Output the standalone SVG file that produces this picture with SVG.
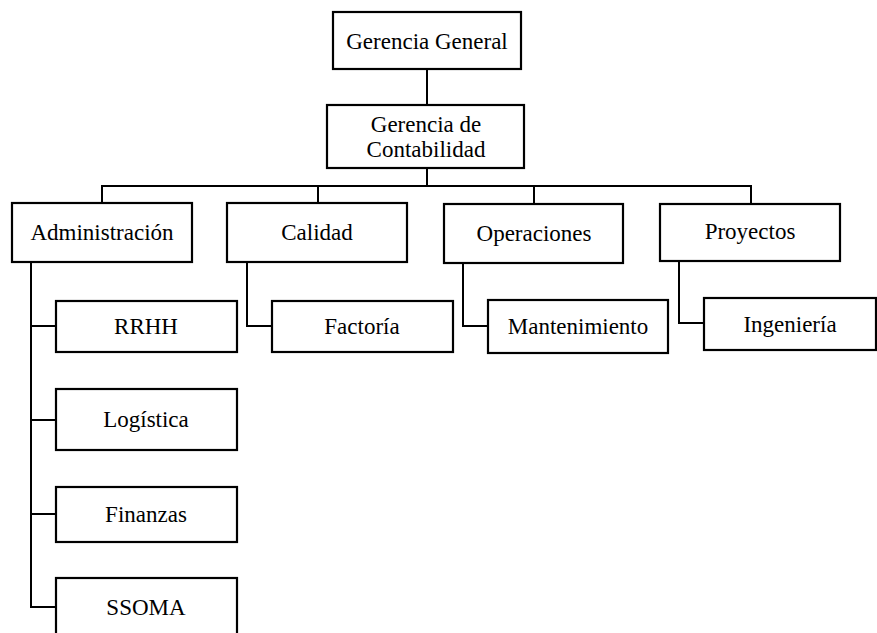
<svg xmlns="http://www.w3.org/2000/svg" width="877" height="633" viewBox="0 0 877 633">
<style>
.box{fill:#fff;stroke:#000;stroke-width:2.2}
.ln{fill:none;stroke:#000;stroke-width:2}
.t{font-family:'Liberation Serif',Times,'Times New Roman',serif;font-size:23px;fill:#000;text-anchor:middle}
</style>
<rect width="877" height="633" fill="#fff"/>
<g id="connectors">
<line class="ln" x1="427" y1="69" x2="427" y2="105"/>
<line class="ln" x1="427" y1="168" x2="427" y2="186"/>
<polyline class="ln" points="102,204 102,186 751,186 751,204"/>
<line class="ln" x1="318" y1="186" x2="318" y2="203"/>
<line class="ln" x1="534" y1="186" x2="534" y2="204"/>
<polyline class="ln" points="31,262 31,607 56,607"/>
<line class="ln" x1="31" y1="326" x2="56" y2="326"/>
<line class="ln" x1="31" y1="420" x2="56" y2="420"/>
<line class="ln" x1="31" y1="514" x2="56" y2="514"/>
<polyline class="ln" points="247,262 247,326 272,326"/>
<polyline class="ln" points="463,263 463,326 488,326"/>
<polyline class="ln" points="679,261 679,323 704,323"/>
</g>
<g id="gerencia-general"><rect class="box" x="333" y="12" width="188" height="57"/><text class="t" font-family="Liberation Serif" x="427" y="49">Gerencia General</text></g>
<g id="gerencia-contabilidad"><rect class="box" x="327" y="105" width="197" height="63"/><text class="t" font-family="Liberation Serif" x="426" y="132">Gerencia de</text><text class="t" font-family="Liberation Serif" x="426" y="157">Contabilidad</text></g>
<g id="administracion"><rect class="box" x="12" y="203" width="180" height="59"/><text class="t" font-family="Liberation Serif" x="102" y="240">Administración</text></g>
<g id="calidad"><rect class="box" x="227" y="203" width="180" height="59"/><text class="t" font-family="Liberation Serif" x="317" y="240">Calidad</text></g>
<g id="operaciones"><rect class="box" x="444" y="204" width="179" height="59"/><text class="t" font-family="Liberation Serif" x="534" y="241">Operaciones</text></g>
<g id="proyectos"><rect class="box" x="660" y="204" width="180" height="57"/><text class="t" font-family="Liberation Serif" x="750" y="239">Proyectos</text></g>
<g id="rrhh"><rect class="box" x="56" y="301" width="181" height="51"/><text class="t" font-family="Liberation Serif" x="146" y="334">RRHH</text></g>
<g id="factoria"><rect class="box" x="272" y="301" width="181" height="51"/><text class="t" font-family="Liberation Serif" x="362" y="334">Factoría</text></g>
<g id="mantenimiento"><rect class="box" x="488" y="300" width="180" height="53"/><text class="t" font-family="Liberation Serif" x="578" y="334">Mantenimiento</text></g>
<g id="ingenieria"><rect class="box" x="704" y="298" width="172" height="52"/><text class="t" font-family="Liberation Serif" x="790" y="332">Ingeniería</text></g>
<g id="logistica"><rect class="box" x="56" y="389" width="181" height="61"/><text class="t" font-family="Liberation Serif" x="146" y="427">Logística</text></g>
<g id="finanzas"><rect class="box" x="56" y="487" width="181" height="55"/><text class="t" font-family="Liberation Serif" x="146" y="522">Finanzas</text></g>
<g id="ssoma"><rect class="box" x="56" y="578" width="181" height="70"/><text class="t" font-family="Liberation Serif" x="146" y="615">SSOMA</text></g>
</svg>
